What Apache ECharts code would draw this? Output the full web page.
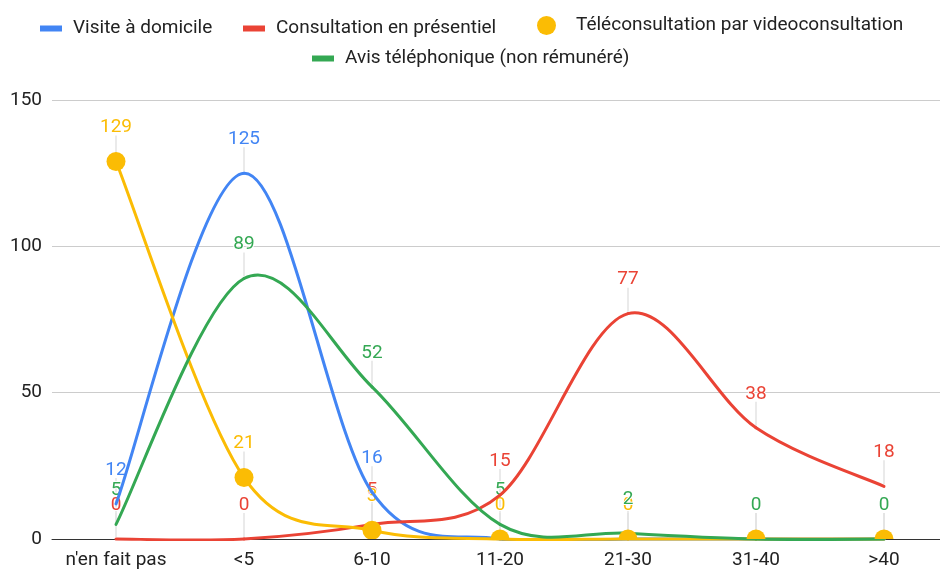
<!DOCTYPE html>
<html>
<head>
<meta charset="utf-8">
<script src="https://cdn.jsdelivr.net/npm/echarts@6/dist/echarts.min.js"></script>
<style>
  html, body { margin: 0; padding: 0; background: #fff; overflow: hidden; }
  /* the plot area runs 8px past the right edge of the window, like the original */
  #chart { width: 948px; height: 570px; }
</style>
</head>
<body>
<div id="chart"></div>
<script>
const categories = ["n'en fait pas", '<5', '6-10', '11-20', '21-30', '31-40', '>40'];
const visiteDomicile = [12, 125, 16, 0, 0, 0, 0];
const consultationPresentiel = [0, 0, 5, 15, 77, 38, 18];
const teleconsultation = [129, 21, 3, 0, 0, 0, 0];
const avisTelephonique = [5, 89, 52, 5, 2, 0, 0];
const yTicks = [0, 50, 100, 150];

const names = ['Visite à domicile', 'Consultation en présentiel', 'Téléconsultation par videoconsultation', 'Avis téléphonique (non rémunéré)'];
const colors = ['#4285f4', '#ea4335', '#fbbc04', '#34a853'];
const allSeries = [visiteDomicile, consultationPresentiel, teleconsultation, avisTelephonique];

const font = 'Roboto, Arial, sans-serif';

// leader stems under the value labels
const stemData = [];
allSeries.forEach(arr => arr.forEach((v, i) => stemData.push([i, v])));

const chart = echarts.init(document.getElementById('chart'));

const legendText = { fontSize: 19, color: '#222', fontFamily: font, padding: [0, 0, 0, 6] };

// Google-style "function" curve: catmull-rom through the points, drawn with the axis scales
function curveSeries(arr, color) {
  return {
    type: 'custom',
    silent: true,
    z: 3,
    data: arr.map((v, i) => [i, v]),
    encode: { x: 0, y: 1 },
    renderItem: (params, api) => {
      if (params.dataIndex !== 0) return null;
      const pts = arr.map((v, i) => api.coord([i, v]));
      const cs = params.coordSys;
      const children = [];
      for (let i = 0; i < pts.length - 1; i++) {
        const p0 = pts[i - 1] || pts[i], p1 = pts[i], p2 = pts[i + 1], p3 = pts[i + 2] || pts[i + 1];
        children.push({
          type: 'bezierCurve',
          shape: {
            x1: p1[0], y1: p1[1], x2: p2[0], y2: p2[1],
            cpx1: p1[0] + (p2[0] - p0[0]) / 6, cpy1: p1[1] + (p2[1] - p0[1]) / 6,
            cpx2: p2[0] - (p3[0] - p1[0]) / 6, cpy2: p2[1] - (p3[1] - p1[1]) / 6
          },
          style: { stroke: color, fill: null, lineWidth: 3, lineCap: 'round' }
        });
      }
      return {
        type: 'group',
        clipPath: { type: 'rect', shape: { x: cs.x, y: cs.y - 5, width: cs.width, height: cs.height + 7 } },
        children
      };
    }
  };
}

// invisible symbols, only carrying the value labels
const lineSeries = allSeries.map((arr, k) => ({
  name: names[k],
  type: 'line',
  data: arr,
  symbol: 'circle',
  symbolSize: k === 2 ? 19 : 2,
  showAllSymbol: true,
  z: 2,
  lineStyle: { opacity: 0 },
  itemStyle: { color: 'rgba(0,0,0,0)' },
  label: {
    show: true,
    position: 'top',
    distance: k === 2 ? 15 : 23.5,
    fontSize: 19,
    fontFamily: font,
    color: colors[k],
    textBorderColor: '#fff',
    textBorderWidth: 2
  },
  emphasis: { disabled: true }
}));

const legendBase = { padding: 0, itemWidth: 22, itemHeight: 6, selectedMode: false, textStyle: legendText };

const option = {
  animation: false,
  legend: [
    { ...legendBase, data: [{ name: names[0], icon: 'rect', itemStyle: { color: colors[0] } }], left: 40, top: 19 },
    { ...legendBase, data: [{ name: names[1], icon: 'rect', itemStyle: { color: colors[1] } }], left: 243, top: 19 },
    { ...legendBase, data: [{ name: names[2], icon: 'circle', itemStyle: { color: colors[2] } }], left: 537, top: 16,
      itemWidth: 19, itemHeight: 19, textStyle: { ...legendText, padding: [0, 0, 0, 15] } },
    { ...legendBase, data: [{ name: names[3], icon: 'rect', itemStyle: { color: colors[3] } }], left: 312, top: 49 }
  ],
  grid: { left: 52, right: 0, top: 100, bottom: 31 },
  xAxis: {
    type: 'category',
    data: categories,
    boundaryGap: true,
    axisTick: { show: false },
    axisLine: { lineStyle: { color: '#333', width: 1 } },
    axisLabel: { interval: 0, fontSize: 19, color: '#222', fontFamily: font, margin: 12 }
  },
  yAxis: {
    type: 'value',
    min: yTicks[0],
    max: yTicks[yTicks.length - 1],
    interval: yTicks[1] - yTicks[0],
    axisLine: { show: false },
    axisTick: { show: false },
    splitLine: { lineStyle: { color: '#cccccc' } },
    axisLabel: { fontSize: 19, color: '#222', fontFamily: font, margin: 10 }
  },
  series: [
    {
      type: 'custom',
      silent: true,
      z: 1,
      data: stemData,
      encode: { x: 0, y: 1 },
      renderItem: (params, api) => {
        const p = api.coord([api.value(0), api.value(1)]);
        return {
          type: 'line',
          shape: { x1: p[0], y1: p[1] - 26, x2: p[0], y2: p[1] - 2 },
          style: { stroke: '#e3e3e3', lineWidth: 1.5 }
        };
      }
    },
    ...lineSeries,
    ...allSeries.map((arr, k) => curveSeries(arr, colors[k])),
    {
      // yellow markers on top of the curves, cut at the x axis
      type: 'custom',
      silent: true,
      z: 4,
      data: teleconsultation.map((v, i) => [i, v]),
      encode: { x: 0, y: 1 },
      renderItem: (params, api) => {
        const p = api.coord([api.value(0), api.value(1)]);
        const cs = params.coordSys;
        return {
          type: 'circle',
          shape: { cx: p[0], cy: p[1], r: 9.5 },
          style: { fill: colors[2] },
          clipPath: { type: 'rect', shape: { x: cs.x, y: cs.y - 20, width: cs.width, height: cs.height + 20 } }
        };
      }
    }
  ]
};

chart.setOption(option);
</script>
</body>
</html>
